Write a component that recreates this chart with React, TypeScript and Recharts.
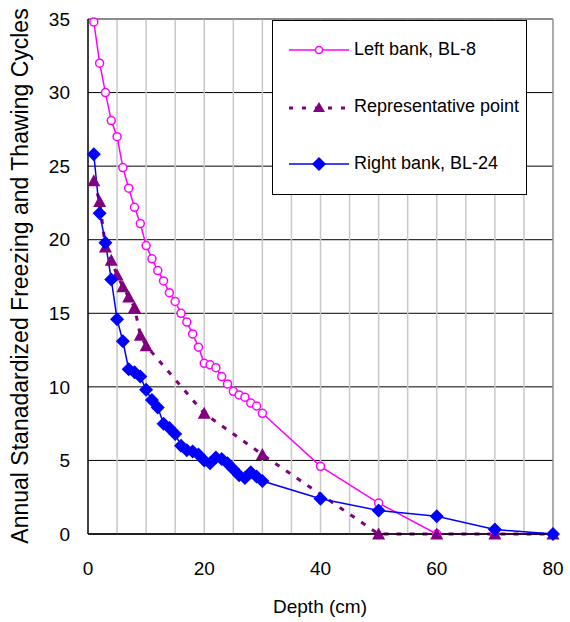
import React from 'react';
import { LineChart, Line, XAxis, YAxis, CartesianGrid, ReferenceLine } from 'recharts';

const leftDepth = [1, 2, 3, 4, 5, 6, 7, 8, 9, 10, 11, 12, 13, 14, 15, 16, 17, 18, 19, 20, 21, 22, 23, 24, 25, 26, 27, 28, 29, 30, 40, 50, 60, 70, 80];
const leftCycles = [34.8, 32.0, 30.0, 28.1, 27.0, 24.9, 23.5, 22.2, 21.1, 19.6, 18.7, 17.9, 17.2, 16.4, 15.8, 15.0, 14.4, 13.6, 12.7, 11.6, 11.5, 11.3, 10.7, 10.2, 9.7, 9.45, 9.3, 8.9, 8.7, 8.2, 4.6, 2.1, 0, 0, 0];

const repDepth = [1, 2, 3, 4, 5, 6, 7, 8, 9, 10, 20, 30, 50, 60, 70, 80];
const repCycles = [24.0, 22.6, 19.5, 18.6, 17.6, 16.8, 16.1, 15.4, 13.5, 12.8, 8.2, 5.4, 0, 0, 0, 0];

const rightDepth = [1, 2, 3, 4, 5, 6, 7, 8, 9, 10, 11, 12, 13, 14, 15, 16, 17, 18, 19, 20, 21, 22, 23, 24, 25, 26, 27, 28, 29, 30, 40, 50, 60, 70, 80];
const rightCycles = [25.8, 21.8, 19.8, 17.3, 14.6, 13.1, 11.2, 11.0, 10.7, 9.8, 9.1, 8.6, 7.5, 7.2, 6.8, 6.0, 5.7, 5.6, 5.4, 5.0, 4.8, 5.2, 5.1, 4.8, 4.4, 4.0, 3.8, 4.2, 3.9, 3.6, 2.4, 1.6, 1.2, 0.3, 0];

const xTicks = [0, 20, 40, 60, 80];
const yTicks = [0, 5, 10, 15, 20, 25, 30, 35];
const minorX = [5, 10, 15, 20, 25, 30, 35, 40, 45, 50, 55, 60, 65, 70, 75];

const legendNames = ['Left bank, BL-8', 'Representative point', 'Right bank, BL-24'];

const toRows = (xs: number[], ys: number[]) => xs.map((x, i) => ({ x, y: ys[i] }));
const leftData = toRows(leftDepth, leftCycles);
const repData = toRows(repDepth, repCycles);
const rightData = toRows(rightDepth, rightCycles);

const FONT = '"Liberation Sans", Arial, sans-serif';
const MAGENTA = '#ff00ff';
const PURPLE = '#800080';
const BLUE = '#0000ff';

const Triangle = (props: any) => {
  const { cx, cy, key } = props;
  if (cx == null || cy == null) return <g key={key} />;
  return <path key={key} d={`M${cx},${cy - 6.5} L${cx + 6.5},${cy + 5.5} L${cx - 6.5},${cy + 5.5} Z`} fill={PURPLE} />;
};

const Diamond = (props: any) => {
  const { cx, cy, key } = props;
  if (cx == null || cy == null) return <g key={key} />;
  return <path key={key} d={`M${cx},${cy - 7} L${cx + 7},${cy} L${cx},${cy + 7} L${cx - 7},${cy} Z`} fill={BLUE} />;
};

function LegendBox() {
  const rowStyle: React.CSSProperties = { position: 'absolute', left: 16, display: 'flex', alignItems: 'center' };
  return (
    <div
      style={{
        position: 'absolute',
        left: 272,
        top: 20,
        width: 255,
        height: 175,
        background: '#fff',
        border: '1px solid #000',
        boxSizing: 'border-box',
        fontFamily: FONT,
        fontSize: 18,
        color: '#000',
      }}
    >
      <div style={{ ...rowStyle, top: 18 }}>
        <svg width={62} height={12}>
          <line x1={0} y1={6} x2={60} y2={6} stroke={MAGENTA} strokeWidth={1.5} />
          <circle cx={30} cy={6} r={3.5} fill="#fff" stroke={MAGENTA} strokeWidth={1.5} />
        </svg>
        <span style={{ marginLeft: 3 }}>{legendNames[0]}</span>
      </div>
      <div style={{ ...rowStyle, top: 75 }}>
        <svg width={62} height={14}>
          <line x1={0} y1={8} x2={60} y2={8} stroke={PURPLE} strokeWidth={3} strokeDasharray="4 9" />
          <path d="M30,2 L36,12 L24,12 Z" fill={PURPLE} />
        </svg>
        <span style={{ marginLeft: 3 }}>{legendNames[1]}</span>
      </div>
      <div style={{ ...rowStyle, top: 132 }}>
        <svg width={62} height={14}>
          <line x1={0} y1={7} x2={60} y2={7} stroke={BLUE} strokeWidth={1.5} />
          <path d="M30,0 L37,7 L30,14 L23,7 Z" fill={BLUE} />
        </svg>
        <span style={{ marginLeft: 3 }}>{legendNames[2]}</span>
      </div>
    </div>
  );
}

export default function App() {
  return (
    <div style={{ position: 'relative', width: 570, height: 622, background: '#fff', fontFamily: FONT }}>
      <style>{`body { margin: 0; }`}</style>
      <LineChart width={570} height={622} margin={{ top: 19, right: 17, bottom: 30, left: 0 }}>
        <CartesianGrid vertical={false} stroke="#000" strokeWidth={1} />
        {minorX.map((v) => (
          <ReferenceLine key={v} x={v} stroke="#c8c8c8" strokeWidth={1.5} />
        ))}
        <ReferenceLine x={80} stroke="#909090" strokeWidth={1.5} />
        <ReferenceLine y={35} stroke="#909090" strokeWidth={1.5} />
        <XAxis
          type="number"
          dataKey="x"
          domain={[0, 80]}
          ticks={xTicks}
          height={58}
          tickLine={false}
          tickMargin={22}
          axisLine={{ stroke: '#000', strokeWidth: 1.5 }}
          tick={{ fill: '#000', fontSize: 19, fontFamily: FONT }}
          allowDuplicatedCategory={false}
        />
        <YAxis
          type="number"
          domain={[0, 35]}
          ticks={yTicks}
          width={88}
          tickLine={false}
          tickMargin={12}
          axisLine={{ stroke: '#000', strokeWidth: 1.5 }}
          tick={{ fill: '#000', fontSize: 19, fontFamily: FONT }}
        />
        <Line
          data={leftData}
          dataKey="y"
          stroke={MAGENTA}
          strokeWidth={1.5}
          dot={{ r: 4, fill: '#fff', stroke: MAGENTA, strokeWidth: 1.5 }}
          isAnimationActive={false}
        />
        <Line
          data={repData}
          dataKey="y"
          stroke={PURPLE}
          strokeWidth={3}
          strokeDasharray="5 8"
          dot={Triangle}
          isAnimationActive={false}
        />
        <Line
          data={rightData}
          dataKey="y"
          stroke={BLUE}
          strokeWidth={1.5}
          dot={Diamond}
          isAnimationActive={false}
        />
      </LineChart>
      <div
        style={{
          position: 'absolute',
          left: 320,
          top: 607,
          transform: 'translate(-50%, -50%)',
          fontSize: 19,
          whiteSpace: 'nowrap',
          color: '#000',
        }}
      >
        Depth (cm)
      </div>
      <div
        style={{
          position: 'absolute',
          left: 20,
          top: 276,
          transform: 'translate(-50%, -50%) rotate(-90deg)',
          fontSize: 23,
          whiteSpace: 'nowrap',
          color: '#000',
        }}
      >
        Annual Stanadardized Freezing and Thawing Cycles
      </div>
      <LegendBox />
    </div>
  );
}
